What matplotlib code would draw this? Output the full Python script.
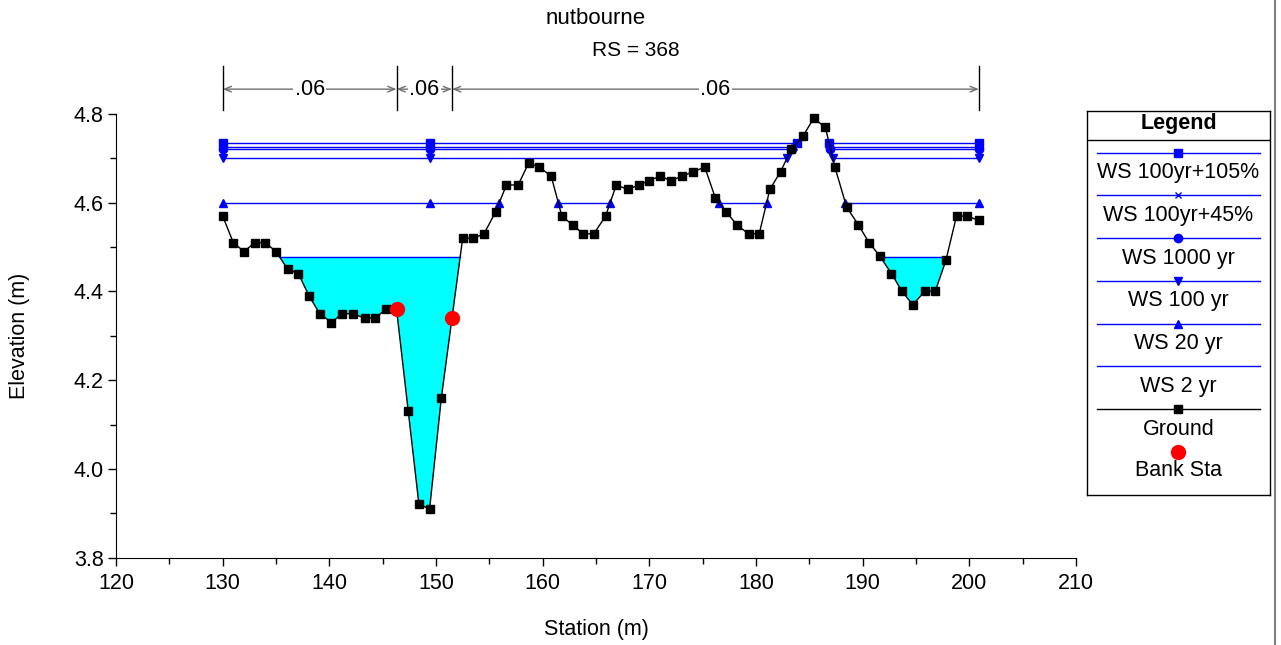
import numpy as np
import matplotlib
matplotlib.use("Agg")
import matplotlib.pyplot as plt
import matplotlib.transforms as mtransforms
from matplotlib.lines import Line2D

plt.rcParams['font.family'] = ['Liberation Sans', 'DejaVu Sans']

# cross section ground survey (station m, elevation m)
station = [130.0, 131.0, 132.0, 133.0, 134.0, 135.0, 136.1, 137.1, 138.1, 139.1,
           140.2, 141.2, 142.2, 143.3, 144.3, 145.3, 146.3, 147.4, 148.4, 149.4,
           150.5, 151.5, 152.5, 153.5, 154.5, 155.6, 156.6, 157.7, 158.7, 159.7,
           160.8, 161.8, 162.8, 163.8, 164.8, 165.9, 166.9, 168.0, 169.0, 170.0,
           171.0, 172.0, 173.1, 174.1, 175.2, 176.2, 177.2, 178.2, 179.3, 180.3,
           181.3, 182.3, 183.3, 184.4, 185.4, 186.5, 187.4, 188.5, 189.6, 190.6,
           191.6, 192.7, 193.7, 194.7, 195.8, 196.8, 197.8, 198.8, 199.8, 200.9]
elevation = [4.57, 4.51, 4.49, 4.51, 4.51, 4.49, 4.45, 4.44, 4.39, 4.35,
             4.33, 4.35, 4.35, 4.34, 4.34, 4.36, 4.36, 4.13, 3.92, 3.91,
             4.16, 4.34, 4.52, 4.52, 4.53, 4.58, 4.64, 4.64, 4.69, 4.68,
             4.66, 4.57, 4.55, 4.53, 4.53, 4.57, 4.64, 4.63, 4.64, 4.65,
             4.66, 4.65, 4.66, 4.67, 4.68, 4.61, 4.58, 4.55, 4.53, 4.53,
             4.63, 4.67, 4.72, 4.75, 4.79, 4.77, 4.68, 4.59, 4.55, 4.51,
             4.48, 4.44, 4.40, 4.37, 4.40, 4.40, 4.47, 4.57, 4.57, 4.56]

bank_sta = [146.3, 151.5]
mannings_n = [0.06, 0.06, 0.06]

profiles = ['WS 100yr+105%', 'WS 100yr+45%', 'WS 1000 yr', 'WS 100 yr', 'WS 20 yr', 'WS 2 yr']
ws_elev = [4.734, 4.726, 4.722, 4.70, 4.60, 4.478]
ws_marker = ['s', 'x', 'o', 'v', '^', None]

title = 'nutbourne'
river_sta = 'RS = 368'

x = np.array(station)
z = np.array(elevation)

BLUE = '#0000ff'
CYAN = '#00ffff'
FS = 15.5


def wet_segments(x, z, level):
    # stretches of the section where the ground is below the water level
    segs = []
    start = x[0] if z[0] < level else None
    for i in range(1, len(x)):
        if (z[i] < level) != (z[i - 1] < level):
            xc = x[i - 1] + (level - z[i - 1]) * (x[i] - x[i - 1]) / (z[i] - z[i - 1])
            if z[i] < level:
                start = xc
            else:
                segs.append((start, xc))
                start = None
    if start is not None:
        segs.append((start, x[-1]))
    return segs


fig = plt.figure(figsize=(12.81, 6.45), dpi=100)
ax = fig.add_axes([116 / 1281, 87.3 / 645, 960 / 1281, 443.7 / 645])

thalweg = x[np.argmin(z)]
styles = {}
for name, level, mk in zip(profiles, ws_elev, ws_marker):
    segs = wet_segments(x, z, level)
    style = dict(color=BLUE, lw=1.0, marker=mk, ms=6 if mk != 'x' else 5,
                 mew=1.0, mfc=BLUE, mec=BLUE)
    styles[name] = style
    if mk is None:
        ax.fill_between(x, z, level, where=z < level, interpolate=True,
                        color=CYAN, lw=0, zorder=1)
    for x0, x1 in segs:
        ax.plot([x0, x1], [level, level], color=BLUE, lw=1.0, zorder=2)
        if mk is not None:
            pts = [x0, x1]
            if x0 < thalweg < x1:
                pts.append(thalweg)
            ax.plot(pts, [level] * len(pts), ls='none', marker=mk,
                    ms=style['ms'], mfc=BLUE, mec=BLUE, mew=1.0, zorder=3,
                    clip_on=False)

ground_style = dict(color='black', lw=1.0, marker='s', ms=6.2, mfc='black', mec='black')
ax.plot(x, z, zorder=4, clip_on=False, **ground_style)

bank_z = np.interp(bank_sta, x, z)
ax.plot(bank_sta, bank_z, ls='none', marker='o', ms=10, color='red', zorder=5)

ax.set_xlim(120, 210)
ax.set_ylim(3.8, 4.8)
ax.set_xticks(np.arange(120, 211, 10))
ax.set_xticks(np.arange(125, 210, 10), minor=True)
ax.set_yticks(np.arange(3.8, 4.81, 0.2))
ax.set_yticks(np.arange(3.9, 4.8, 0.2), minor=True)
ax.yaxis.set_major_formatter(plt.FormatStrFormatter('%.1f'))
ax.tick_params(which='major', length=6, width=1, labelsize=FS, direction='out')
ax.tick_params(axis='x', which='major', pad=5)
ax.tick_params(axis='y', which='major', pad=3)
ax.tick_params(which='minor', length=4, width=1, direction='out')
for s in ['top', 'right']:
    ax.spines[s].set_visible(False)
ax.set_xlabel('Station (m)', fontsize=FS, labelpad=18)
ax.set_ylabel('Elevation (m)', fontsize=FS, labelpad=31)

fig.text(596 / 1281, 1 - 18 / 645, title, ha='center', va='center', fontsize=16)
fig.text(636 / 1281, 1 - 50 / 645, river_sta, ha='center', va='center', fontsize=15)

# Manning's n regions above the section
trans = mtransforms.blended_transform_factory(ax.transData, ax.transAxes)
n_breaks = [station[0], bank_sta[0], bank_sta[1], station[-1]]
for xb in n_breaks:
    ax.plot([xb, xb], [1.009, 1.108], color='black', lw=1, transform=trans, clip_on=False)
for x0, x1, n in zip(n_breaks[:-1], n_breaks[1:], mannings_n):
    ax.annotate('', xy=(x1, 1.056), xytext=(x0, 1.056), xycoords=trans, textcoords=trans,
                arrowprops=dict(arrowstyle='<->,head_length=0.5,head_width=0.2',
                                color='#707070', lw=1, shrinkA=0, shrinkB=0))
    ax.text((x0 + x1) / 2, 1.056, ('%.2f' % n).lstrip('0'), transform=trans,
            ha='center', va='center', fontsize=FS,
            bbox=dict(facecolor='white', edgecolor='none', pad=1))

# legend panel
lg = fig.add_axes([1087 / 1281, 150 / 645, 183 / 1281, 384 / 645])
lg.set_xlim(0, 183)
lg.set_ylim(384, 0)
lg.set_xticks([])
lg.set_yticks([])
for s in lg.spines.values():
    s.set_linewidth(1)
lg.text(91.5, 12, 'Legend', ha='center', va='center', fontsize=FS, fontweight='bold')
lg.plot([0, 183], [29, 29], color='black', lw=1)
entries = profiles + ['Ground']
for i, name in enumerate(entries):
    yy = 41.7 + 42.75 * i
    if name == 'Ground':
        st = ground_style
    else:
        st = styles[name]
    lg.plot([10, 173], [yy, yy], color=st['color'], lw=1)
    if st['marker'] is not None:
        lg.plot([91], [yy], ls='none', marker=st['marker'], ms=st['ms'],
                mfc=st['mfc'], mec=st['mec'], mew=1)
    lg.text(91.5, yy + 20, name, ha='center', va='center', fontsize=FS)
yy = 41.7 + 42.75 * len(entries)
lg.plot([91], [yy], ls='none', marker='o', ms=10, color='red')
lg.text(91.5, yy + 19, 'Bank Sta', ha='center', va='center', fontsize=FS)

fig.add_artist(Line2D([1275 / 1281] * 2, [0, 1], color='#808080', lw=1.5))

fig.savefig('out.png', dpi=100)
